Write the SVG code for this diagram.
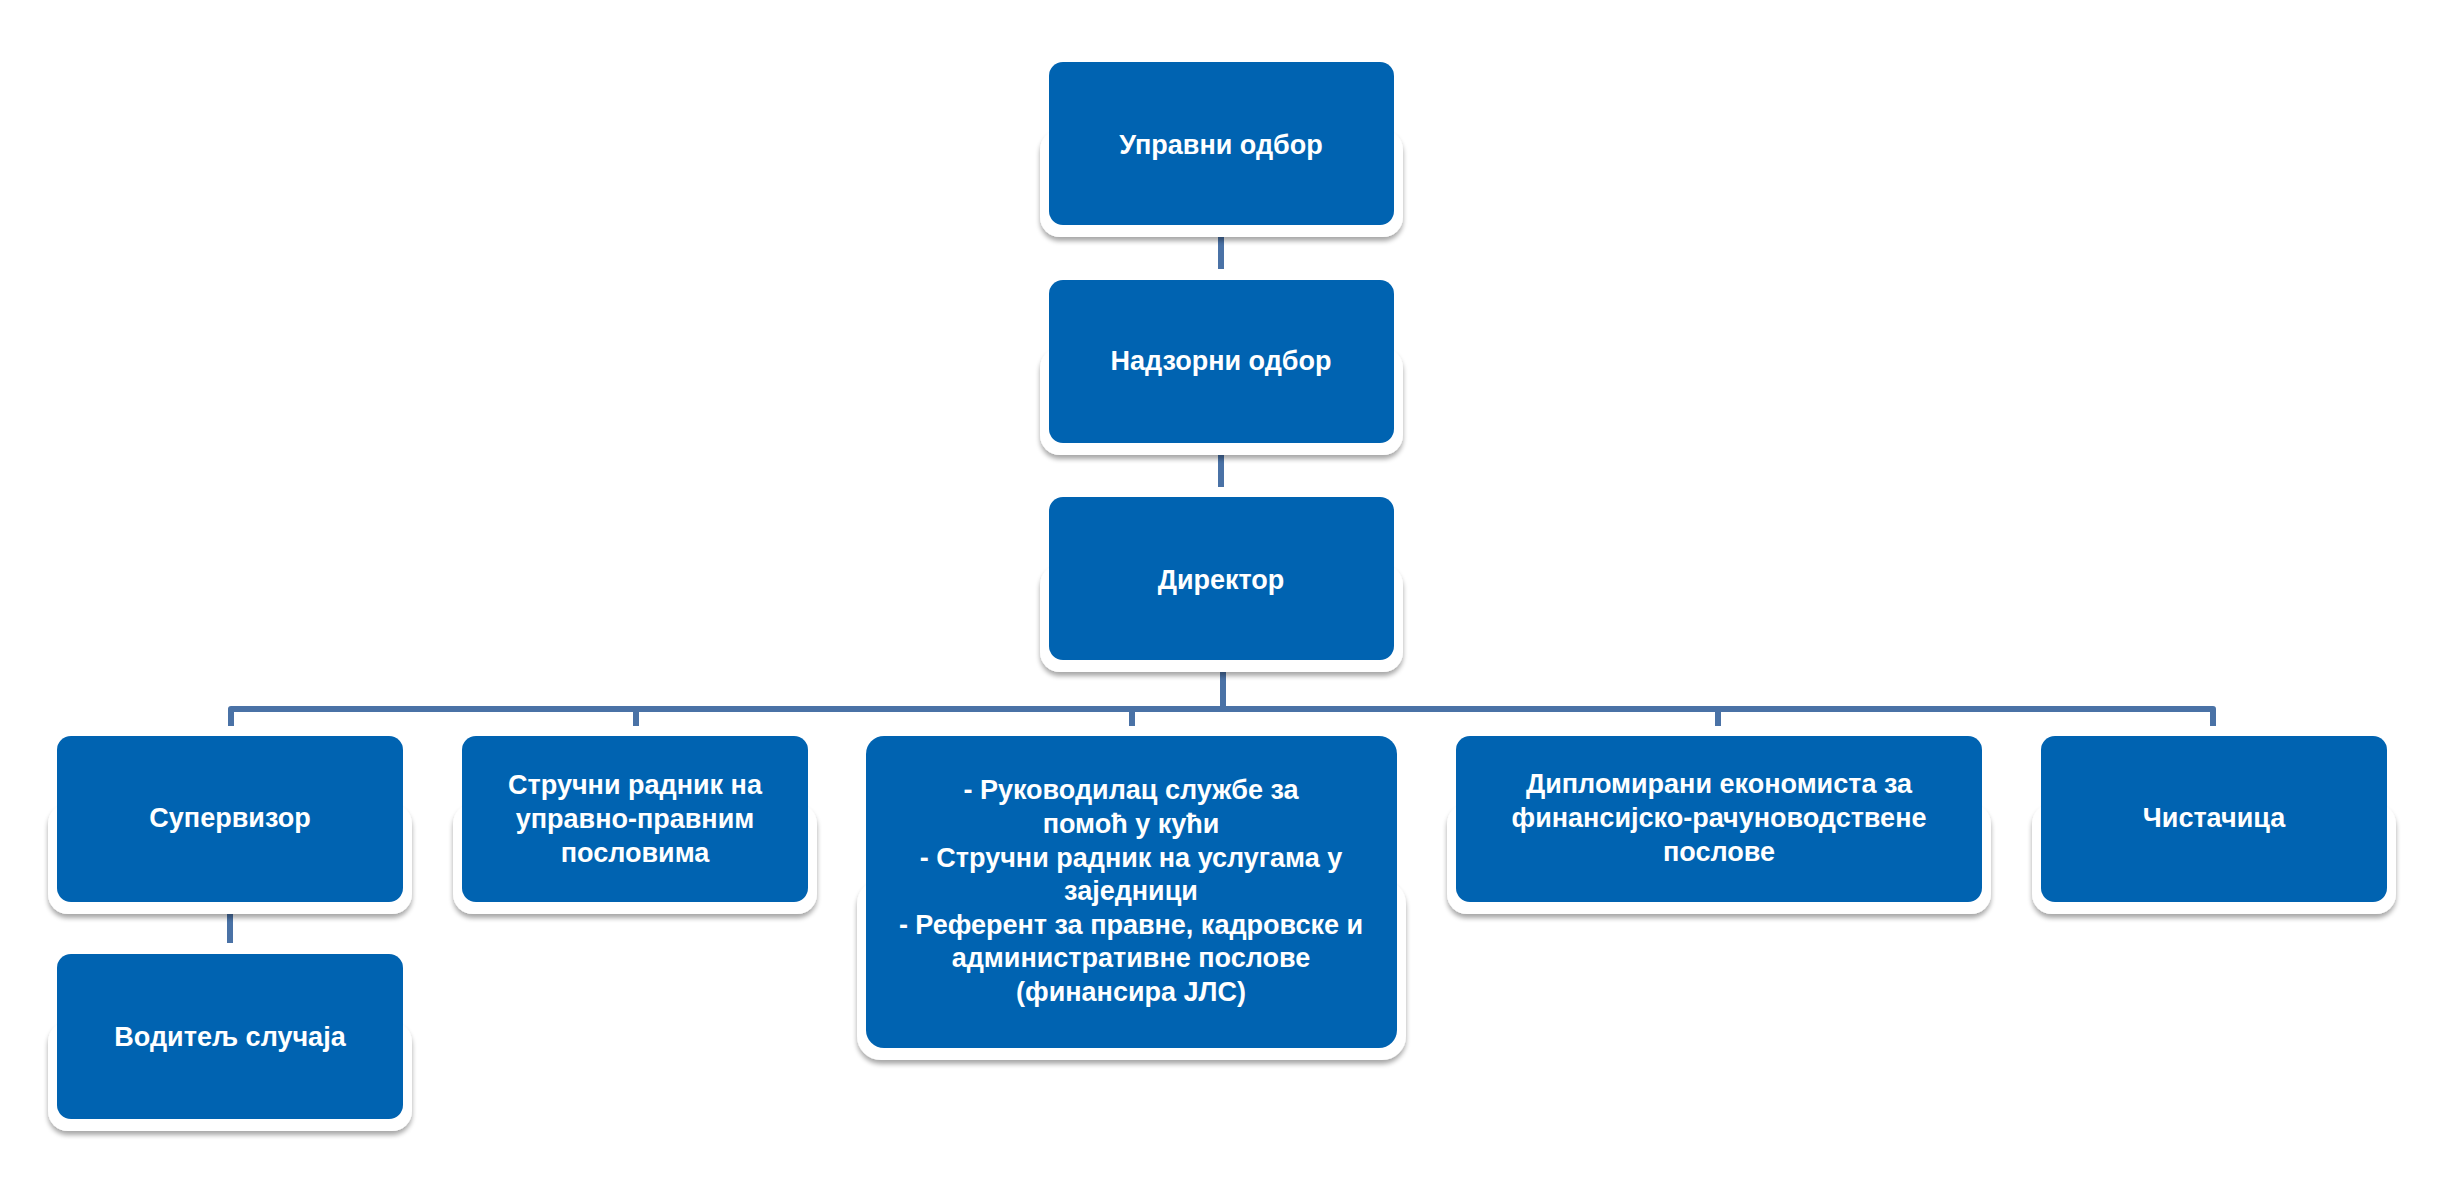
<svg xmlns="http://www.w3.org/2000/svg" width="2441" height="1182" viewBox="0 0 2441 1182">
<defs>
<filter id="sh" x="-5%" y="-10%" width="110%" height="135%">
<feGaussianBlur in="SourceAlpha" stdDeviation="2.5"/>
<feOffset dx="0" dy="4" result="o"/>
<feComponentTransfer><feFuncA type="linear" slope="0.35"/></feComponentTransfer>
<feMerge><feMergeNode/><feMergeNode in="SourceGraphic"/></feMerge>
</filter>
</defs>
<style>
.frame{fill:#ffffff;filter:url(#sh)}
.box{fill:#0063B1}
.t{font-family:"Liberation Sans",Arial,sans-serif;font-weight:bold;font-size:27px;fill:#ffffff;text-anchor:middle}
.c{fill:none;stroke:#4A72A6;stroke-width:6;stroke-linejoin:round}
</style>
<rect width="2441" height="1182" fill="#ffffff"/>
<g id="connectors">
<path class="c" d="M1221,237 V269"/>
<path class="c" d="M1221,453 V487"/>
<path class="c" d="M1223,672 V709"/>
<path class="c" d="M231,726 V709 H2213 V726"/>
<path class="c" d="M636,709 V726"/>
<path class="c" d="M1132,709 V726"/>
<path class="c" d="M1718,709 V726"/>
<path class="c" d="M230,907 V943"/>
</g>
<g id="n1">
<rect class="frame" x="1040" y="130" width="363" height="107" rx="20"/>
<rect class="box" x="1049" y="62" width="345" height="163" rx="14"/>
<text class="t" x="1221" y="154">Управни одбор</text>
</g>
<g id="n2">
<rect class="frame" x="1040" y="348" width="363" height="107" rx="20"/>
<rect class="box" x="1049" y="280" width="345" height="163" rx="14"/>
<text class="t" x="1221" y="370">Надзорни одбор</text>
</g>
<g id="n3">
<rect class="frame" x="1040" y="565" width="363" height="107" rx="20"/>
<rect class="box" x="1049" y="497" width="345" height="163" rx="14"/>
<text class="t" x="1221" y="589">Директор</text>
</g>
<g id="n4">
<rect class="frame" x="48" y="804" width="364" height="110" rx="20"/>
<rect class="box" x="57" y="736" width="346" height="166" rx="14"/>
<text class="t" x="230" y="827">Супервизор</text>
</g>
<g id="n5">
<rect class="frame" x="48" y="1022" width="364" height="109" rx="20"/>
<rect class="box" x="57" y="954" width="346" height="165" rx="14"/>
<text class="t" x="230" y="1046">Водитељ случаја</text>
</g>
<g id="n6">
<rect class="frame" x="453" y="804" width="364" height="110" rx="20"/>
<rect class="box" x="462" y="736" width="346" height="166" rx="14"/>
<text class="t" x="635" y="794">Стручни радник на</text>
<text class="t" x="635" y="828">управно-правним</text>
<text class="t" x="635" y="862">пословима</text>
</g>
<g id="n7">
<rect class="frame" x="857" y="880" width="549" height="180" rx="24"/>
<rect class="box" x="866" y="736" width="531" height="312" rx="18"/>
<text class="t" x="1131" y="799">- Руководилац службе за</text>
<text class="t" x="1131" y="833">помоћ у кући</text>
<text class="t" x="1131" y="867">- Стручни радник на услугама у</text>
<text class="t" x="1131" y="900">заједници</text>
<text class="t" x="1131" y="934">- Референт за правне, кадровске и</text>
<text class="t" x="1131" y="967">административне послове</text>
<text class="t" x="1131" y="1001">(финансира ЈЛС)</text>
</g>
<g id="n8">
<rect class="frame" x="1447" y="804" width="544" height="110" rx="20"/>
<rect class="box" x="1456" y="736" width="526" height="166" rx="14"/>
<text class="t" x="1719" y="793">Дипломирани економиста за</text>
<text class="t" x="1719" y="827">финансијско-рачуноводствене</text>
<text class="t" x="1719" y="861">послове</text>
</g>
<g id="n9">
<rect class="frame" x="2032" y="804" width="364" height="110" rx="20"/>
<rect class="box" x="2041" y="736" width="346" height="166" rx="14"/>
<text class="t" x="2214" y="827">Чистачица</text>
</g>
</svg>
